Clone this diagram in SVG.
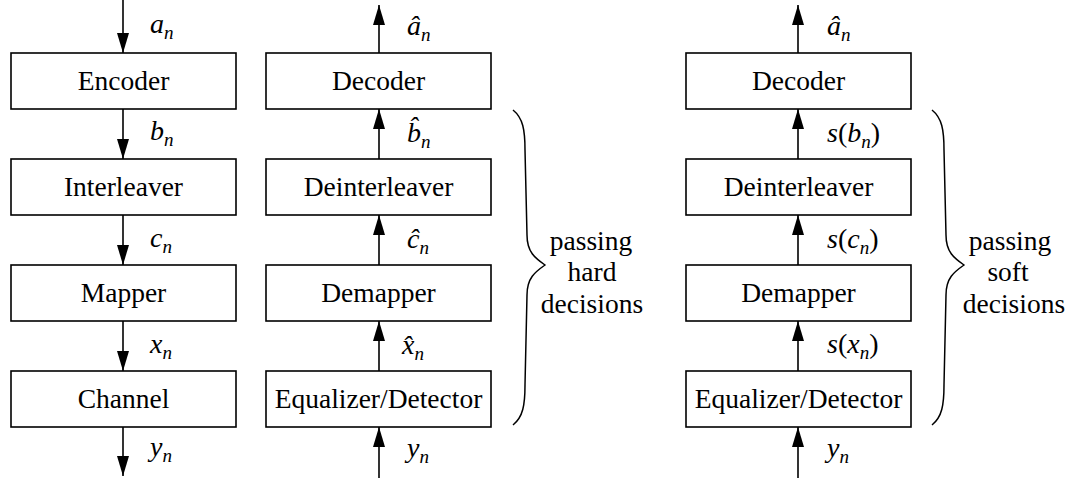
<svg xmlns="http://www.w3.org/2000/svg" width="1070" height="478" viewBox="0 0 1070 478">
<style>
.box{fill:#fff;stroke:#000;stroke-width:1.6}
.bt{font-family:"Liberation Serif","Times New Roman",serif;font-size:27.5px;text-anchor:middle;fill:#000}
.lb{font-family:"Liberation Serif","Times New Roman",serif;font-style:italic;font-size:28px;fill:#000}
.sub{font-size:19px}
.up{font-style:normal;font-size:28px}
.cn{stroke:#000;stroke-width:1.6;fill:none}
.br{stroke:#000;stroke-width:1.5;fill:none}
.tx{font-family:"Liberation Serif","Times New Roman",serif;font-size:27.5px;text-anchor:middle;fill:#000}
</style>
<defs>
<marker id="ah" markerUnits="userSpaceOnUse" markerWidth="20" markerHeight="12" refX="20" refY="6" orient="auto" viewBox="0 0 20 12">
<path d="M0,0 L20,6 L0,12 Z" fill="#000"/>
</marker>
</defs>
<g id="connectors">
<line class="cn" x1="123" y1="0" x2="123" y2="53" marker-end="url(#ah)"/>
<line class="cn" x1="123" y1="109" x2="123" y2="159" marker-end="url(#ah)"/>
<line class="cn" x1="123" y1="215" x2="123" y2="265" marker-end="url(#ah)"/>
<line class="cn" x1="123" y1="321" x2="123" y2="371" marker-end="url(#ah)"/>
<line class="cn" x1="123" y1="427" x2="123" y2="476" marker-end="url(#ah)"/>
<line class="cn" x1="379" y1="53" x2="379" y2="5" marker-end="url(#ah)"/>
<line class="cn" x1="379" y1="159" x2="379" y2="109" marker-end="url(#ah)"/>
<line class="cn" x1="379" y1="265" x2="379" y2="215" marker-end="url(#ah)"/>
<line class="cn" x1="379" y1="371" x2="379" y2="321" marker-end="url(#ah)"/>
<line class="cn" x1="379" y1="478" x2="379" y2="427" marker-end="url(#ah)"/>
<line class="cn" x1="798" y1="53" x2="798" y2="5" marker-end="url(#ah)"/>
<line class="cn" x1="798" y1="159" x2="798" y2="109" marker-end="url(#ah)"/>
<line class="cn" x1="798" y1="265" x2="798" y2="215" marker-end="url(#ah)"/>
<line class="cn" x1="798" y1="371" x2="798" y2="321" marker-end="url(#ah)"/>
<line class="cn" x1="798" y1="478" x2="798" y2="427" marker-end="url(#ah)"/>
</g>
<g id="labels">
<text class="lb" x="150" y="33">a<tspan class="sub" dy="6">n</tspan></text>
<text class="lb" x="150" y="140">b<tspan class="sub" dy="6">n</tspan></text>
<text class="lb" x="150" y="247">c<tspan class="sub" dy="6">n</tspan></text>
<text class="lb" x="150" y="353">x<tspan class="sub" dy="6">n</tspan></text>
<text class="lb" x="150" y="456">y<tspan class="sub" dy="6">n</tspan></text>
<text class="lb" x="407" y="35">â<tspan class="sub" dy="6">n</tspan></text>
<text class="lb" x="407" y="142">b̂<tspan class="sub" dy="6">n</tspan></text>
<text class="lb" x="407" y="248">ĉ<tspan class="sub" dy="6">n</tspan></text>
<text class="lb" x="402" y="354">x̂<tspan class="sub" dy="6">n</tspan></text>
<text class="lb" x="407" y="457">y<tspan class="sub" dy="6">n</tspan></text>
<text class="lb" x="827" y="35">â<tspan class="sub" dy="6">n</tspan></text>
<text class="lb" x="827" y="142">s<tspan class="up">(</tspan>b<tspan class="sub" dy="6">n</tspan><tspan class="up" dy="-6">)</tspan></text>
<text class="lb" x="827" y="248">s<tspan class="up">(</tspan>c<tspan class="sub" dy="6">n</tspan><tspan class="up" dy="-6">)</tspan></text>
<text class="lb" x="827" y="353">s<tspan class="up">(</tspan>x<tspan class="sub" dy="6">n</tspan><tspan class="up" dy="-6">)</tspan></text>
<text class="lb" x="827" y="457">y<tspan class="sub" dy="6">n</tspan></text>
</g>
<g id="encoder"><rect class="box" x="11" y="53" width="225" height="56"/><text class="bt" x="123.5" y="90">Encoder</text></g>
<g id="interleaver"><rect class="box" x="11" y="159" width="225" height="56"/><text class="bt" x="123.5" y="196">Interleaver</text></g>
<g id="mapper"><rect class="box" x="11" y="265" width="225" height="56"/><text class="bt" x="123.5" y="302">Mapper</text></g>
<g id="channel"><rect class="box" x="11" y="371" width="225" height="56"/><text class="bt" x="123.5" y="408">Channel</text></g>
<g id="decoder-hard"><rect class="box" x="266" y="53" width="225" height="56"/><text class="bt" x="378.5" y="90">Decoder</text></g>
<g id="deinterleaver-hard"><rect class="box" x="266" y="159" width="225" height="56"/><text class="bt" x="378.5" y="196">Deinterleaver</text></g>
<g id="demapper-hard"><rect class="box" x="266" y="265" width="225" height="56"/><text class="bt" x="378.5" y="302">Demapper</text></g>
<g id="equalizer-hard"><rect class="box" x="266" y="371" width="225" height="56"/><text class="bt" x="378.5" y="408">Equalizer/Detector</text></g>
<g id="decoder-soft"><rect class="box" x="686" y="53" width="225" height="56"/><text class="bt" x="798.5" y="90">Decoder</text></g>
<g id="deinterleaver-soft"><rect class="box" x="686" y="159" width="225" height="56"/><text class="bt" x="798.5" y="196">Deinterleaver</text></g>
<g id="demapper-soft"><rect class="box" x="686" y="265" width="225" height="56"/><text class="bt" x="798.5" y="302">Demapper</text></g>
<g id="equalizer-soft"><rect class="box" x="686" y="371" width="225" height="56"/><text class="bt" x="798.5" y="408">Equalizer/Detector</text></g>
<g id="brace-hard">
<path class="br" d="M513,110 C523,118 525,130 525,150 L527,235 C527,252 535,258 545,265 C535,272 527,278 527,295 L525,385 C525,405 523,417 513,425"/>
<text class="tx" x="591" y="250">passing</text>
<text class="tx" x="592" y="281">hard</text>
<text class="tx" x="592" y="313">decisions</text>
</g>
<g id="brace-soft">
<path class="br" d="M932,110 C942,118 944,130 944,150 L946,235 C946,252 954,258 964,265 C954,272 946,278 946,295 L944,385 C944,405 942,417 932,425"/>
<text class="tx" x="1010" y="250">passing</text>
<text class="tx" x="1008" y="281">soft</text>
<text class="tx" x="1014" y="313">decisions</text>
</g>
</svg>
